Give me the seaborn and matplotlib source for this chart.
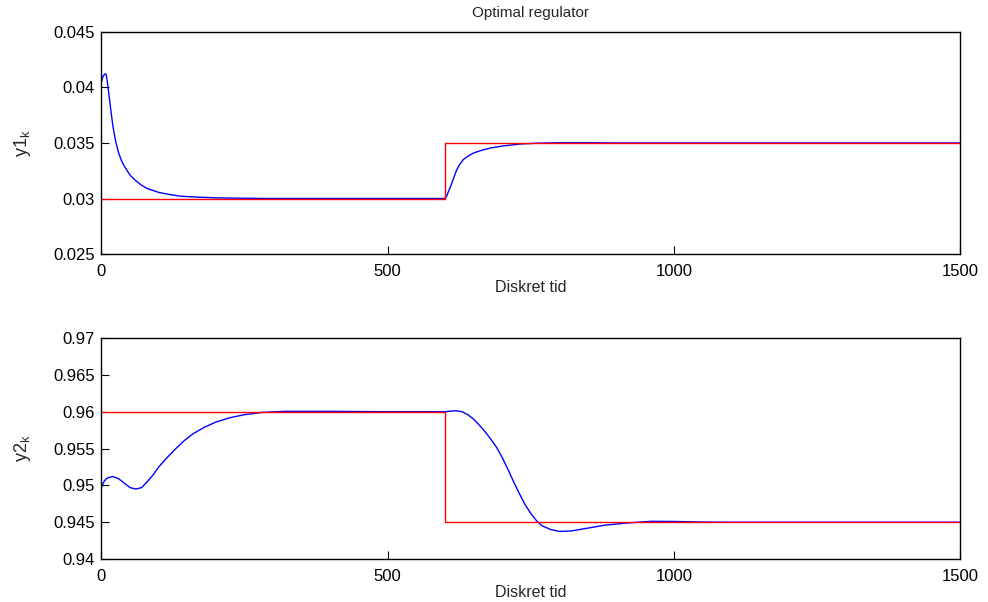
import numpy as np
import pandas as pd
import matplotlib
matplotlib.use('Agg')
import matplotlib.pyplot as plt
import seaborn as sns

# 참조값 (계단)
ref_k = [0, 600, 600, 1500]
ref_y1 = [0.030, 0.030, 0.035, 0.035]
ref_y2 = [0.960, 0.960, 0.945, 0.945]

# 출력 y1
k1 = [0, 2, 4, 6, 8, 10, 12, 16, 20, 25, 30, 35, 40, 50, 60, 70, 80, 100, 120,
      140, 170, 200, 250, 300, 600, 603, 606, 610, 615, 620, 625, 632, 640, 650,
      665, 680, 700, 730, 760, 800, 860, 900, 1500]
y1 = [0.0405, 0.0409, 0.0411, 0.04122, 0.0412, 0.0406, 0.0398, 0.0381, 0.0365,
      0.0351, 0.0341, 0.0334, 0.0329, 0.0321, 0.0316, 0.0312, 0.0309, 0.03055,
      0.03035, 0.0302, 0.03012, 0.03006, 0.03002, 0.0300, 0.0300, 0.0302,
      0.0306, 0.0311, 0.0318, 0.0325, 0.0330, 0.0335, 0.0338, 0.0341, 0.03435,
      0.03455, 0.03472, 0.0349, 0.03498, 0.03502, 0.03502, 0.0350, 0.0350]

# 출력 y2
k2 = [0, 5, 10, 20, 30, 40, 50, 60, 70, 80, 90, 100, 115, 130, 145, 160, 180,
      200, 225, 250, 280, 320, 400, 500, 600, 610, 620, 630, 640, 650, 660, 670,
      680, 690, 700, 710, 720, 730, 740, 750, 760, 770, 785, 800, 820, 850, 880,
      920, 960, 1000, 1050, 1100, 1500]
y2 = [0.9498, 0.9506, 0.9510, 0.9512, 0.9509, 0.9503, 0.9497, 0.9495, 0.9497,
      0.9505, 0.9514, 0.9525, 0.9538, 0.9550, 0.9561, 0.9570, 0.9579, 0.9586,
      0.9592, 0.9596, 0.9599, 0.96005, 0.96005, 0.9600, 0.9600, 0.96008, 0.96013,
      0.9600, 0.9596, 0.9590, 0.9582, 0.9573, 0.9563, 0.9552, 0.9538, 0.9522,
      0.9505, 0.9489, 0.9474, 0.9462, 0.9452, 0.9445, 0.9440, 0.94375, 0.9438,
      0.9442, 0.9446, 0.9449, 0.94512, 0.94510, 0.94502, 0.9450, 0.9450]

sns.set_style("white")
plt.rcParams['font.family'] = ['Liberation Sans', 'DejaVu Sans']
plt.rcParams['mathtext.fontset'] = 'custom'
plt.rcParams['mathtext.rm'] = 'Liberation Sans'
plt.rcParams['mathtext.it'] = 'Liberation Sans'

fig = plt.figure(figsize=(9.88, 6.02), dpi=100)
ax1 = fig.add_axes([0.1027, 0.578, 0.869, 0.369])
ax2 = fig.add_axes([0.1027, 0.0714, 0.869, 0.367])

panels = [
    (ax1, k1, y1, ref_y1, r'y1$_\mathregular{k}$',
     [0.025, 0.03, 0.035, 0.04, 0.045], ['0.025', '0.03', '0.035', '0.04', '0.045']),
    (ax2, k2, y2, ref_y2, r'y2$_\mathregular{k}$',
     [0.94, 0.945, 0.95, 0.955, 0.96, 0.965, 0.97],
     ['0.94', '0.945', '0.95', '0.955', '0.96', '0.965', '0.97']),
]

for ax, kk, yy, ref, lab, yt, ytl in panels:
    sns.lineplot(x=kk, y=yy, ax=ax, color='#0000ff', linewidth=1.0,
                 estimator=None, sort=False)
    sns.lineplot(x=ref_k, y=ref, ax=ax, color='#ff0000', linewidth=1.0,
                 estimator=None, sort=False)
    ax.set_xlim(0, 1500)
    ax.set_ylim(yt[0], yt[-1])
    ax.set_xticks([0, 500, 1000, 1500])
    ax.set_xticklabels(['0', '500', '1000', '1500'])
    ax.set_yticks(yt)
    ax.set_yticklabels(ytl)
    ax.tick_params(direction='in', length=6, width=0.8, labelsize=12,
                   colors='black', left=True, bottom=True, pad=5)
    ax.tick_params(axis='x', pad=7)
    ax.set_xlabel('Diskret tid', fontsize=11.5, labelpad=1)
    ax.set_ylabel(lab, fontsize=13, labelpad=14)
    for s in ax.spines.values():
        s.set_color('black')
        s.set_linewidth(1.0)

ax1.set_title('Optimal regulator', fontsize=11, pad=11)

plt.savefig('out.png', dpi=100)
